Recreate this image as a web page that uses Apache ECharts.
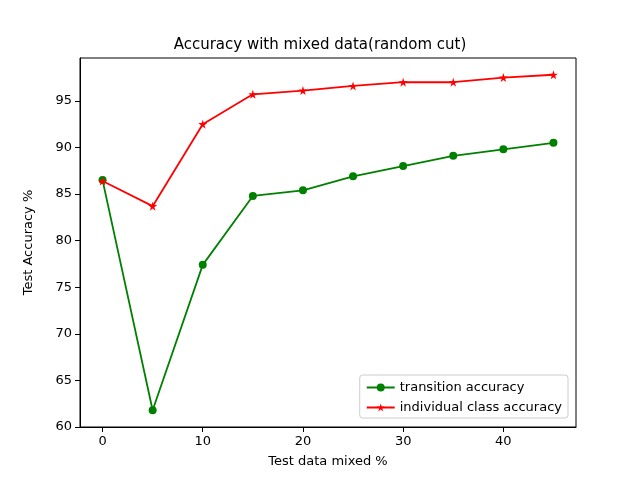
<!DOCTYPE html>
<html><head><meta charset="utf-8">
<script src="https://cdn.jsdelivr.net/npm/echarts@6/dist/echarts.min.js"></script>
<style>html,body{margin:0;padding:0;background:#fff}#c{width:640px;height:480px}</style>
</head><body><div id="c"></div>
<script>
const xs = [0,5,10,15,20,25,30,35,40,45];
const transition = [86.5,61.8,77.4,84.8,85.4,86.9,88.0,89.1,89.8,90.5];
const individual = [86.4,83.7,92.5,95.7,96.1,96.6,97.0,97.0,97.5,97.8];
const xTicks = [0,10,20,30,40];
const font = 'DejaVu Sans';
const chart = echarts.init(document.getElementById('c'));
chart.setOption({
  animation:false,
  textStyle:{fontFamily:font},
  title:{text:'Accuracy with mixed data(random cut)',left:'center',top:33,textStyle:{fontFamily:font,fontSize:15,fontWeight:'normal',color:'#000'}},
  grid:{left:80,right:64,top:58,bottom:53},
  legend:{orient:'vertical',right:72,bottom:62,itemWidth:28,itemHeight:10,itemGap:7,
    backgroundColor:'#fff',borderColor:'#ccc',borderWidth:1,borderRadius:3,padding:[6,6,4,6],
    textStyle:{fontFamily:font,fontSize:13,color:'#000'}},
  xAxis:{type:'value',min:-2.25,max:47.25,name:'Test data mixed %',nameLocation:'middle',nameGap:28,
    nameTextStyle:{fontFamily:font,fontSize:13,color:'#000'},
    axisLine:{show:true,onZero:false,lineStyle:{color:'#000'}},
    axisTick:{show:true,customValues:xTicks,lineStyle:{color:'#000'}},
    axisLabel:{customValues:xTicks,color:'#000',fontSize:13,fontFamily:font},
    splitLine:{show:false}},
  yAxis:{type:'value',min:60,max:99.6,interval:5,name:'Test Accuracy %',nameLocation:'middle',nameGap:45,
    nameTextStyle:{fontFamily:font,fontSize:13,color:'#000'},
    axisLine:{show:true,onZero:false,lineStyle:{color:'#000'}},
    axisTick:{show:true,lineStyle:{color:'#000'}},
    axisLabel:{showMaxLabel:false,color:'#000',fontSize:13,fontFamily:font},
    splitLine:{show:false}},
  series:[
    {name:'transition accuracy',type:'line',data:xs.map((x,i)=>[x,transition[i]]),color:'#008000',
      symbol:'circle',symbolSize:8,lineStyle:{width:1.8},itemStyle:{color:'#008000'}},
    {name:'individual class accuracy',type:'line',data:xs.map((x,i)=>[x,individual[i]]),color:'#ff0000',
      symbol:'path://M0,-1L0.2245,-0.309L0.951,-0.309L0.363,0.118L0.588,0.809L0,0.382L-0.588,0.809L-0.363,0.118L-0.951,-0.309L-0.2245,-0.309Z',
      symbolSize:9,lineStyle:{width:1.8},itemStyle:{color:'#ff0000'}}
  ],
  graphic:[{type:'rect',shape:{x:80,y:58,width:496,height:369},style:{fill:'none',stroke:'#000',lineWidth:1},silent:true}]
});
</script></body></html>
